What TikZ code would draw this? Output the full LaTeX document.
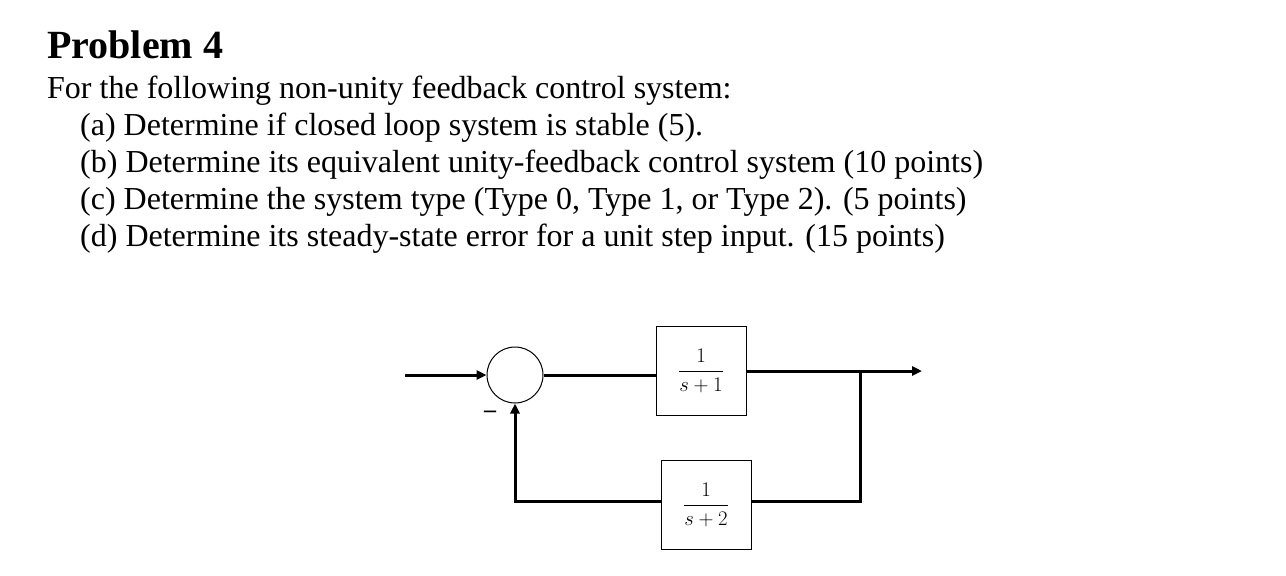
\documentclass[tikz,border=0pt]{standalone}
\usepackage{amsmath}
\usepackage{fontspec}
\setmainfont{Liberation Serif}
\usetikzlibrary{arrows.meta}
\begin{document}
\begin{tikzpicture}[x=1pt,y=-1pt,
  txt/.style={anchor=base west,inner sep=0pt,font=\fontsize{32}{34}\selectfont},
  blk/.style={draw,line width=1pt,minimum width=90pt,minimum height=89pt,inner sep=0pt,font=\fontsize{22}{26}\selectfont},
  sig/.style={line width=3pt},
  arr/.style={sig,-{Triangle[length=10pt,width=9pt]}}]
\useasboundingbox (0,0) rectangle (1286,576);
\node[txt,font=\fontsize{40}{42}\selectfont\bfseries] (title) at (47,58) {Problem 4};
\node[txt] (l0) at (47,98) {For the following non-unity feedback control system:};
\node[txt] (la) at (80,135) {(a) Determine if closed loop system is stable (5).};
\node[txt] (lb) at (80,172) {(b) Determine its equivalent unity-feedback control system (10 points)};
\node[txt] (lc) at (80,209) {(c) Determine the system type (Type 0, Type 1, or Type 2). (5 points)};
\node[txt] (ld) at (80,246) {(d) Determine its steady-state error for a unit step input. (15 points)};
\node[draw,circle,line width=1pt,minimum size=56pt,inner sep=0pt] (sum) at (515,375) {};
\node[blk] (g) at (701,371) {$\dfrac{1}{s+1}$};
\node[blk] (h) at (706,505) {$\dfrac{1}{s+2}$};
\coordinate (in) at (405,375);
\coordinate (out) at (922,371);
\coordinate (br) at (860,371);
\coordinate (hr) at (751,501);
\coordinate (hl) at (661,501);
\node[inner sep=0pt,font=\fontsize{24}{24}\selectfont\bfseries] (minus) at (490,414) {--};
\draw[arr] (in) -- (sum.west);
\draw[sig] (sum.east) -- (sum.east -| g.west);
\draw[arr] (g.east) -- (out);
\draw[sig] (br) |- (hr);
\draw[arr] (hl) -| (sum.south);
\end{tikzpicture}
\end{document}
